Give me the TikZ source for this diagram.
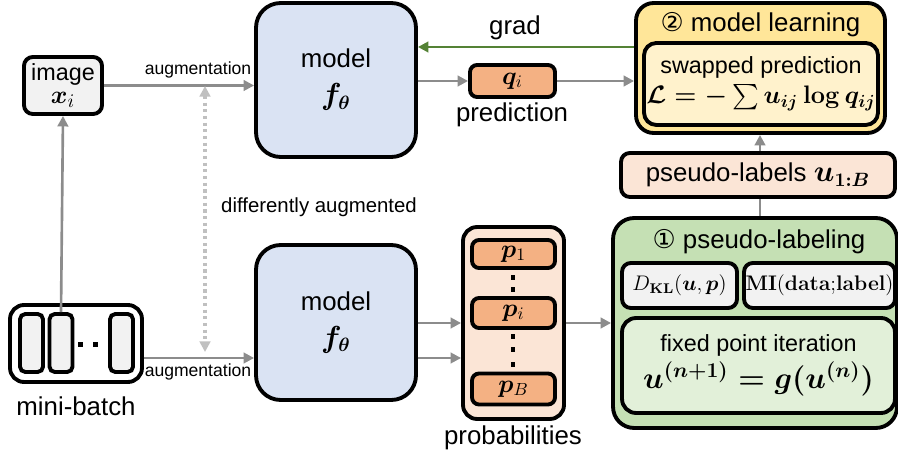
\documentclass[tikz,border=0pt]{standalone}
\usepackage{amsmath}
\usepackage{bm}
\usepackage[no-math]{fontspec}
\setmainfont{Liberation Sans}
\newfontfamily\circfont{DejaVu Sans}
\usetikzlibrary{arrows.meta}

\definecolor{mblue}{HTML}{DAE3F3}
\definecolor{orng}{HTML}{F4B183}
\definecolor{peach}{HTML}{FBE5D6}
\definecolor{yel}{HTML}{FFE699}
\definecolor{lyel}{HTML}{FFF2CC}
\definecolor{grn}{HTML}{C5E0B4}
\definecolor{lgrn}{HTML}{E2F0D9}
\definecolor{lgray}{HTML}{F2F2F2}
\definecolor{arrgray}{HTML}{8C8C8C}
\definecolor{dotgray}{HTML}{C0C0C0}
\definecolor{gradgrn}{HTML}{548235}

\tikzset{
  blk/.style={draw=black, line width=2.2pt, inner sep=0pt, align=center},
  flow/.style={->, draw=arrgray, line width=1.5pt},
  big/.style={font=\fontsize{14.7}{17}\selectfont},
  mid/.style={font=\fontsize{13.3}{16}\selectfont},
  small/.style={font=\fontsize{10}{12}\selectfont},
}

\begin{document}
\begin{tikzpicture}[x=0.02cm, y=-0.02cm, >={Triangle[length=6pt,width=6pt]}]
  \useasboundingbox (0,0) rectangle (898,455);

  % input side
  \node[blk, fill=lgray, rounded corners=5pt, minimum width=1.56cm, minimum height=1.14cm, mid] (img) at (63,85.5) {image\\[-3pt]{\fontsize{15}{16}\selectfont$\bm{x}_i$}};
  \node[blk, fill=white, rounded corners=8pt, minimum width=2.64cm, minimum height=1.54cm] (batch) at (76,343.5) {};
  \node[blk, fill=lgray, rounded corners=3pt, minimum width=0.46cm, minimum height=1.16cm] (b1) at (31.5,343) {};
  \node[blk, fill=lgray, rounded corners=3pt, minimum width=0.46cm, minimum height=1.16cm] (b2) at (61,343) {};
  \node[blk, fill=lgray, rounded corners=3pt, minimum width=0.46cm, minimum height=1.16cm] (b3) at (121.5,343) {};
  \foreach \x in {80,95}
    \fill (\x-2.5,342.5) rectangle (\x+2.5,347.5);
  \node[big] (batchlbl) at (76,406) {mini-batch};

  % models
  \node[blk, fill=mblue, rounded corners=14pt, minimum width=3.2cm, minimum height=3.08cm, big] (mtop) at (336,80) {model\\[4pt]{\fontsize{16}{18}\selectfont$\bm{f_\theta}$}};
  \node[blk, fill=mblue, rounded corners=14pt, minimum width=3.2cm, minimum height=3.1cm, big] (mbot) at (336,322.5) {model\\[4pt]{\fontsize{16}{18}\selectfont$\bm{f_\theta}$}};

  \draw[flow] (img.east) -- (mtop.west |- img.east);
  \node[small] (aug1) at (198,70) {augmentation};
  \draw[flow] (batch.east |- 0,358) -- (mbot.west |- 0,358);
  \node[small] (aug2) at (198,372) {augmentation};
  \draw[flow] (b2.north) -- (img.south);

  \coordinate (dtop) at (205,86);
  \coordinate (dbot) at (205,352);
  \draw[<->, dotgray, line width=1.8pt, dotted] (dtop) -- (dbot);
  \node[anchor=west, font=\fontsize{11.6}{14}\selectfont] (difflbl) at (215,207) {differently augmented};

  % prediction branch
  \node[blk, fill=orng, rounded corners=4pt, minimum width=1.7cm, minimum height=0.64cm, big] (q) at (512.5,81) {$\bm{q}_i$};
  \node[big] (predlbl) at (512,115) {prediction};

  % model learning
  \node[blk, fill=yel, rounded corners=10pt, minimum width=4.98cm, minimum height=2.6cm] (learn) at (760.5,68) {};
  \node[big] (learnlbl) at (760.5,25) {{\circfont ②} model learning};
  \node[blk, fill=lyel, rounded corners=7pt, minimum width=4.68cm, minimum height=1.64cm, mid] (swap) at (761,84) {swapped prediction\\[1pt]{\fontsize{14.5}{16}\selectfont\boldmath$\mathcal{L}=-\sum u_{ij}\log q_{ij}$}};

  \draw[->, gradgrn, line width=1.5pt] (learn.west |- 0,47) -- (mtop.east |- 0,47);
  \node[big] (gradlbl) at (515,28) {grad};
  \draw[flow] (mtop.east |- q.west) -- (q.west);
  \draw[flow] (q.east) -- (learn.west |- q.east);

  % pseudo-labels
  \node[blk, fill=peach, rounded corners=5pt, minimum width=5.48cm, minimum height=0.88cm, big] (plabels) at (758,175) {pseudo-labels {\fontsize{16}{18}\selectfont\boldmath$u_{1{:}B}$}};
  \draw[flow] (plabels.north -| 760,0) -- (learn.south -| 760,0);

  % probabilities
  \node[blk, fill=peach, rounded corners=8pt, minimum width=2.02cm, minimum height=3.84cm] (prob) at (513.5,323) {};
  \node[blk, fill=orng, rounded corners=4pt, minimum width=1.66cm, minimum height=0.56cm, big] (p1) at (513.5,254) {$\bm{p}_1$};
  \node[blk, fill=orng, rounded corners=4pt, minimum width=1.66cm, minimum height=0.6cm, big] (pi) at (513.5,313) {$\bm{p}_i$};
  \node[blk, fill=orng, rounded corners=4pt, minimum width=1.66cm, minimum height=0.62cm, big] (pB) at (513.5,389) {$\bm{p}_B$};
  \foreach \y in {278,290,337,350,364}
    \fill (511,\y-2.5) rectangle (515,\y+2.5);
  \node[big] (problbl) at (513,438) {probabilities};

  \draw[flow] (mbot.east |- 0,323) -- (prob.west |- 0,323);
  \draw[flow] (mbot.east |- 0,358) -- (prob.west |- 0,358);

  % pseudo-labeling
  \node[blk, fill=grn, rounded corners=12pt, minimum width=5.68cm, minimum height=4.2cm] (plab) at (755,323) {};
  \node[big] (plablbl) at (759,242) {{\circfont ①} pseudo-labeling};
  \node[blk, fill=lgray, rounded corners=5pt, minimum width=2.3cm, minimum height=0.9cm, font=\fontsize{12}{14}\selectfont] (dkl) at (679.5,285.5) {$D_{\mathbf{KL}}(\bm{u},\bm{p})$};
  \node[blk, fill=lgray, rounded corners=5pt, minimum width=3.02cm, minimum height=0.9cm, font=\fontsize{11.5}{14}\selectfont] (mi) at (819.5,285.5) {$\mathbf{MI(data{;}label)}$};
  \node[blk, fill=lgrn, rounded corners=8pt, minimum width=5.46cm, minimum height=1.9cm, mid] (fixed) at (758.5,365.5) {fixed point iteration\\[2pt]{\fontsize{17}{19}\selectfont\boldmath$u^{(n+1)}=g(u^{(n)})$}};

  \draw[flow] (prob.east |- 0,323) -- (plab.west |- 0,323);
  \draw[draw=arrgray, line width=1.5pt] (plab.north -| 760,0) -- (plabels.south -| 760,0);
\end{tikzpicture}
\end{document}
